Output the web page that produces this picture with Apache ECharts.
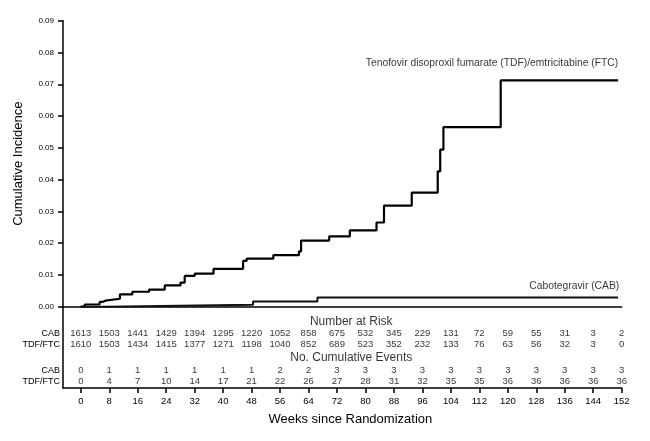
<!DOCTYPE html>
<html>
<head>
<meta charset="utf-8">
<script src="https://cdn.jsdelivr.net/npm/echarts@6/dist/echarts.min.js"></script>
<style>
html,body{margin:0;padding:0;background:#fff;}
#c{width:650px;height:441px;}
</style>
</head>
<body>
<div id="c"></div>
<script>
// ---- Data ----
var weeks = [0,8,16,24,32,40,48,56,64,72,80,88,96,104,112,120,128,136,144,152];
var cabRisk = [1613,1503,1441,1429,1394,1295,1220,1052,858,675,532,345,229,131,72,59,55,31,3,2];
var tdfRisk = [1610,1503,1434,1415,1377,1271,1198,1040,852,689,523,352,232,133,76,63,56,32,3,0];
var cabEvents = [0,1,1,1,1,1,1,2,2,3,3,3,3,3,3,3,3,3,3,3];
var tdfEvents = [0,4,7,10,14,17,21,22,26,27,28,31,32,35,35,36,36,36,36,36];

// Kaplan-Meier style step curves: [week, cumulative incidence]
var tdfCurve = [[0,0],[1.1,0.0007],[5.3,0.0015],[6.1,0.0019],[6.9,0.0025],[11,0.0039],[14.5,0.0047],[19.2,0.0054],[23.6,0.0067],[28,0.0076],[29.2,0.0097],[32,0.0104],[37.3,0.0119],[45.6,0.0144],[46.6,0.0151],[54.1,0.0162],[61.3,0.0174],[61.9,0.0208],[69.8,0.0221],[75.6,0.024],[83.1,0.0265],[85.2,0.0318],[93,0.0359],[100.3,0.0426],[101,0.0494],[101.9,0.0565],[118,0.0712],[151,0.0712]];
var cabCurve = [[0,0],[7.2,0.0006],[48.4,0.0016],[66.5,0.0029],[151,0.0029]];

var tdfName = 'Tenofovir disoproxil fumarate (TDF)/emtricitabine (FTC)';
var cabName = 'Cabotegravir (CAB)';
var yTitle = 'Cumulative Incidence';
var xTitle = 'Weeks since Randomization';
var riskHeader = 'Number at Risk';
var eventsHeader = 'No. Cumulative Events';
var rowNames = ['CAB','TDF/FTC','CAB','TDF/FTC'];

// ---- Layout (table row positions in table-axis units, px from top of table area) ----
var rowPos = [26.6, 38, 64, 75.1];
var headerPos = [14.6, 50.6];
var FONT = "'Liberation Sans', Arial, Helvetica, sans-serif";

function rowSeries(values, pos){
  return {
    type:'scatter', xAxisIndex:1, yAxisIndex:1, symbolSize:0, silent:true,
    data: weeks.map(function(w,i){ return [w, pos, values[i]]; }),
    label:{show:true, position:'inside', color:'#000', fontSize:9.5, fontFamily:FONT,
      formatter:function(p){ return String(p.data[2]); }}
  };
}

var chart = echarts.init(document.getElementById('c'), null, {renderer:'canvas'});
var option = {
  animation:false,
  backgroundColor:'#fff',
  textStyle:{fontFamily:FONT},
  grid:[
    {left:63, right:28.3, top:20.7, height:286},
    {left:63, right:28.3, top:306.7, height:81.3}
  ],
  xAxis:[
    {type:'value', gridIndex:0, min:-5, max:152,
     axisLine:{show:true, onZero:false, lineStyle:{color:'#000', width:1.5}},
     axisTick:{show:false}, axisLabel:{show:false}, splitLine:{show:false}},
    {type:'value', gridIndex:1, min:-5, max:152, position:'bottom',
     axisLine:{show:true, onZero:false, lineStyle:{color:'#000', width:1.5}},
     axisTick:{show:true, length:5, inside:false, customValues:weeks, lineStyle:{color:'#000', width:1.5}},
     axisLabel:{show:true, customValues:weeks, margin:8, color:'#000', fontSize:9.5, fontFamily:FONT},
     splitLine:{show:false},
     name:xTitle, nameLocation:'middle', nameGap:25,
     nameTextStyle:{fontSize:13, color:'#000', fontFamily:FONT, padding:[0,0,0,16]}}
  ],
  yAxis:[
    {type:'value', gridIndex:0, min:0, max:0.09, interval:0.01,
     axisLine:{show:true, onZero:false, lineStyle:{color:'#000', width:1.5}},
     axisTick:{show:true, length:5, lineStyle:{color:'#000', width:1.5}},
     axisLabel:{margin:9, color:'#000', fontSize:8, fontFamily:FONT,
       formatter:function(v){ return v.toFixed(2); }},
     splitLine:{show:false},
     name:yTitle, nameLocation:'middle', nameGap:38,
     nameTextStyle:{fontSize:13, color:'#000', fontFamily:FONT}},
    {type:'value', gridIndex:1, min:0, max:81.3, inverse:true,
     axisLine:{show:true, onZero:false, lineStyle:{color:'#000', width:1.5}},
     axisTick:{show:false},
     axisLabel:{show:true, customValues:rowPos, margin:3, color:'#000', fontSize:9, fontFamily:FONT,
       formatter:function(v){
         for(var i=0;i<rowPos.length;i++){ if(Math.abs(rowPos[i]-v)<0.05) return rowNames[i]; }
         return '';
       }},
     splitLine:{show:false}}
  ],
  series:[
    {type:'line', name:tdfName, xAxisIndex:0, yAxisIndex:0, step:'end', showSymbol:false, symbol:'none',
     data:tdfCurve, lineStyle:{color:'#000', width:2.2}, silent:true},
    {type:'line', name:cabName, xAxisIndex:0, yAxisIndex:0, step:'end', showSymbol:false, symbol:'none',
     data:cabCurve, lineStyle:{color:'#111', width:2}, silent:true},
    {type:'scatter', xAxisIndex:0, yAxisIndex:0, symbolSize:0, silent:true,
     data:[{value:[151,0.0766], name:tdfName},{value:[151.3,0.0066], name:cabName}],
     label:{show:true, position:'inside', align:'right', verticalAlign:'middle', color:'#000',
       fontSize:10.3, fontFamily:FONT, formatter:function(p){ return p.name; }}},
    {type:'scatter', xAxisIndex:1, yAxisIndex:1, symbolSize:0, silent:true,
     data:[{value:[76, headerPos[0]], name:riskHeader},{value:[76, headerPos[1]], name:eventsHeader}],
     label:{show:true, position:'inside', color:'#000', fontSize:12, fontFamily:FONT,
       formatter:function(p){ return p.name; }}},
    rowSeries(cabRisk, rowPos[0]),
    rowSeries(tdfRisk, rowPos[1]),
    rowSeries(cabEvents, rowPos[2]),
    rowSeries(tdfEvents, rowPos[3])
  ]
};
chart.setOption(option);
</script>
</body>
</html>
